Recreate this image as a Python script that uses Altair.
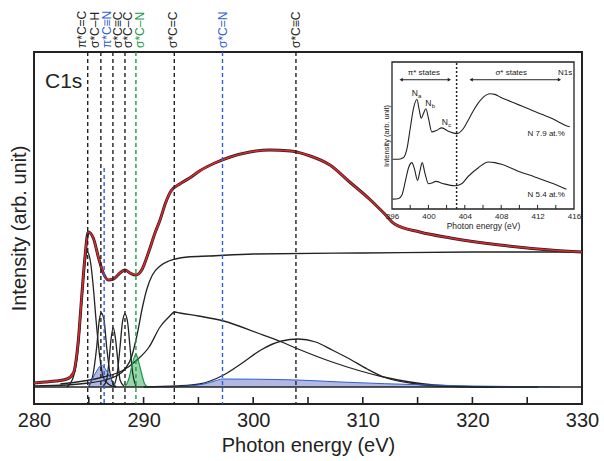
import altair as alt
import pandas as pd

FONT = "Liberation Sans"
INK = "#222222"
BLUE = "#2f5fd0"
GREEN = "#1d9a4a"
RED = "#e3262b"
BLUE_FILL = "#a3acdf"
GREEN_FILL = "#86cf9c"

# ---------------- main C1s spectrum (energy in eV, intensity in arb. units) -------------
fit_ev = [280, 281, 282, 283, 283.6, 284.04, 284.35, 284.65, 284.95, 285.41, 285.87, 286.32,
          286.78, 287.24, 287.85, 288.3, 288.76, 289.3, 289.83, 290.43, 291.04, 291.5, 292.0, 292.5,
          293.3, 294.2, 295.1, 296.5, 297.9, 299.7, 301.5, 303.4, 305.2, 307.0, 308.8, 310.7,
          312.0, 312.9, 315.2, 318.0, 322.5, 327.1, 330]
fit_int = [4, 5, 6, 8, 14, 46, 90, 130, 155, 149, 130, 114,
           107, 108, 114, 117, 114, 112, 117, 134, 154, 167, 184, 196,
           203, 209, 216, 224, 230, 235, 237, 236, 231, 222, 205, 187,
           173, 163, 155, 149, 142, 137, 135]

step_ev = [280, 283, 285, 286.5, 287.5, 288.3, 288.9, 289.4, 289.9, 290.3, 290.8, 291.5,
           292.3, 292.9, 294, 296, 300, 310, 320, 330]
step_int = [1, 2, 4, 7, 11, 18, 30, 52, 80, 98, 112, 121, 126, 128, 130, 131, 133, 134, 135, 135]

cc_ev = [282.4, 286.3, 288.0, 289.4, 290.5, 291.5, 292.3, 292.85, 293.3, 295.0, 297.3, 300.4,
         302.6, 304.1, 307.2, 311.9, 316.5, 321.1, 326]
cc_int = [3, 10, 16, 27, 40, 60, 70, 75, 74, 71, 66, 54, 45, 38, 25, 10, 2, 0, 0]

ctc_ev = [290, 293, 295.1, 297.3, 299.0, 300.7, 302.6, 304.1, 305.7, 307.2, 308.8, 310.4,
          311.9, 314.9, 318, 322]
ctc_int = [0, 1, 3, 12, 24, 37, 46, 48, 45, 37, 28, 18, 10, 3, 0.5, 0]

cn_ev = [292, 294, 295.5, 296.5, 297.2, 300, 304, 308, 312, 316, 320, 325, 328]
cn_int = [0, 1, 3, 6, 8, 7.8, 7, 5, 3.3, 2, 1, 0.3, 0]

g1_ev = [283.0, 283.59, 284.04, 284.35, 284.65, 284.87, 285.17, 285.41, 285.66, 285.96, 286.32, 286.9, 287.5]
g1_int = [0, 10, 40, 84, 124, 135, 124, 100, 67, 34, 10, 2, 0]
g2_ev = [285.0, 285.41, 285.72, 285.96, 286.14, 286.39, 286.63, 286.93, 287.3]
g2_int = [1, 14, 40, 67, 74, 67, 40, 14, 1]
g3_ev = [286.3, 286.63, 286.85, 287.02, 287.24, 287.45, 287.64, 287.85, 288.2]
g3_int = [1, 7, 27, 47, 59, 47, 27, 7, 1]
g4_ev = [287.3, 287.6, 287.85, 288.06, 288.3, 288.55, 288.76, 289.0, 289.3]
g4_int = [1, 14, 40, 64, 73, 64, 40, 14, 1]
g5_ev = [288.2, 288.46, 288.7, 288.91, 289.3, 289.67, 289.9, 290.1, 290.4]
g5_int = [0, 3, 10, 20, 33, 20, 10, 3, 0]
g6_ev = [285.0, 285.41, 285.78, 286.14, 286.57, 286.93, 287.5]
g6_int = [0, 10, 17, 22, 17, 10, 0]

line_pos = [284.9, 286.1, 286.4, 287.2, 288.3, 289.3, 292.8, 297.2, 303.9]
line_top = [335, 335, 219, 335, 335, 335, 335, 335, 335]
line_col = ["black", "black", "blue", "black", "black", "green", "black", "blue", "black"]

label_text = ["π*C=C", "σ*C–H", "π*C≡N", "σ*C≡C", "σ*C–C", "σ*C–N", "σ*C=C", "σ*C=N", "σ*C≡C"]
label_pos = [284.35, 285.57, 286.63, 287.69, 288.6, 289.66, 292.7, 297.2, 303.9]

x_ticks = [285, 290, 295, 300, 305, 310, 315, 320, 325]
x_labels = [280, 290, 300, 310, 320, 330]

# ---------------- inset N1s spectra ----------------
up_ev = [396.07, 396.73, 397.28, 397.64, 398.0, 398.37, 398.74, 398.99, 399.21, 399.47, 399.72,
         400.01, 400.38, 400.93, 401.47, 402.2, 403.12, 403.85, 404.39, 404.94, 405.49, 406.04,
         406.77, 407.31, 408.04, 408.96, 409.87, 410.78, 411.69, 412.61, 413.52, 414.25, 415.16, 415.53]
up_int = [1.46, 1.46, 1.51, 1.76, 2.36, 2.96, 3.21, 2.91, 2.66, 2.81, 2.94,
          2.66, 2.26, 2.31, 2.38, 2.28, 2.21, 2.36, 2.61, 2.88, 3.11, 3.28,
          3.38, 3.36, 3.26, 3.16, 3.06, 2.96, 2.86, 2.76, 2.66, 2.56, 2.44, 2.41]
lo_ev = [396.07, 396.73, 397.09, 397.46, 397.82, 398.19, 398.48, 398.81, 399.07, 399.32, 399.61,
         400.01, 400.38, 400.82, 401.66, 402.93, 403.66, 404.39, 405.49, 406.58, 407.31, 408.04,
         409.87, 411.69, 413.52, 415.16]
lo_int = [0.29, 0.31, 0.41, 0.81, 1.21, 1.36, 1.16, 0.84, 1.11, 1.36, 1.06,
          0.74, 0.76, 0.81, 0.74, 0.68, 0.74, 0.96, 1.21, 1.38, 1.36, 1.31,
          1.11, 0.94, 0.76, 0.58]
in_ticks = [398, 400, 402, 404, 406, 408, 410, 412, 414]
in_labels = [396, 400, 404, 408, 412, 416]

# ---------------- scales & axes ----------------
W, H = 548, 352
xs = alt.Scale(domain=[280, 330], nice=False, zero=False)
ys = alt.Scale(domain=[-17, 335], nice=False, zero=False)
x_axis = alt.Axis(orient="bottom", values=x_labels, ticks=False, domain=False, grid=False,
                  labelFlush=False, labelOverlap=False,
                  labelFontSize=20, labelFont=FONT, labelColor=INK, labelPadding=6,
                  title="Photon energy (eV)", titleFontSize=20, titleFont=FONT,
                  titleFontWeight="normal", titleColor=INK, titlePadding=5)
y_axis = alt.Axis(orient="left", ticks=False, labels=False, domain=False, grid=False,
                  title="Intensity (arb. unit)", titleFontSize=20, titleFont=FONT,
                  titleFontWeight="normal", titleColor=INK, titlePadding=5)


def X(f):
    return alt.X(f"{f}:Q", scale=xs, axis=x_axis)


def Y(f):
    return alt.Y(f"{f}:Q", scale=ys, axis=y_axis)


def frame(ev, it, name):
    return pd.DataFrame({"ev": ev, "I": it, "curve": name})


black_curves = pd.concat([
    frame(g1_ev, g1_int, "g1"), frame(g2_ev, g2_int, "g2"), frame(g3_ev, g3_int, "g3"),
    frame(g4_ev, g4_int, "g4"), frame(step_ev, step_int, "step"),
    frame(cc_ev, cc_int, "cc"), frame(ctc_ev, ctc_int, "ctc"),
])
blue_curves = pd.concat([frame(cn_ev, cn_int, "cn"), frame(g6_ev, g6_int, "g6")])
green_curve = frame(g5_ev, g5_int, "g5")
fit = frame(fit_ev, fit_int, "fit")

col_map = {"black": INK, "blue": BLUE, "green": GREEN}
vlines = pd.DataFrame({"pos": line_pos, "top": line_top, "bot": [-17] * len(line_pos),
                       "col": [col_map[c] for c in line_col]})
labels = pd.DataFrame({"pos": label_pos, "label": label_text,
                       "col": [col_map[c] for c in line_col]})
ticks = pd.DataFrame({"pos": x_ticks, "y1": -17, "y2": -10})

blue_area = alt.Chart(blue_curves).mark_area(color=BLUE_FILL, opacity=0.85, interpolate="monotone").encode(
    x=X("ev"), y=Y("I"), detail="curve:N")
blue_edge = alt.Chart(blue_curves).mark_line(color=BLUE, strokeWidth=1, interpolate="monotone").encode(
    x=X("ev"), y=Y("I"), detail="curve:N")
green_area = alt.Chart(green_curve).mark_area(color=GREEN_FILL, opacity=0.85, interpolate="monotone").encode(
    x=X("ev"), y=Y("I"))
green_edge = alt.Chart(green_curve).mark_line(color=GREEN, strokeWidth=1.2, interpolate="monotone").encode(
    x=X("ev"), y=Y("I"))
black_lines = alt.Chart(black_curves).mark_line(color=INK, strokeWidth=1.3, interpolate="monotone").encode(
    x=X("ev"), y=Y("I"), detail="curve:N")
data_line = alt.Chart(fit).mark_line(color=INK, strokeWidth=3, interpolate="monotone").encode(
    x=X("ev"), y=Y("I"))
fit_line = alt.Chart(fit).mark_line(color=RED, strokeWidth=1.6, interpolate="monotone").encode(
    x=X("ev"), y=Y("I"))
baseline = alt.Chart(pd.DataFrame({"I": [0]})).mark_rule(color=INK, strokeWidth=1.6).encode(y=Y("I"))
dashed = alt.Chart(vlines).mark_rule(strokeDash=[4, 3], strokeWidth=1.4).encode(
    x=X("pos"), y=Y("top"), y2="bot", color=alt.Color("col:N", scale=None))
tick_marks = alt.Chart(ticks).mark_rule(color=INK, strokeWidth=1.6).encode(
    x=X("pos"), y=Y("y1"), y2="y2")
top_labels = alt.Chart(labels).mark_text(angle=270, align="left", baseline="middle",
                                         fontSize=12, font=FONT).encode(
    x=X("pos"), y=alt.value(-4), text="label:N", color=alt.Color("col:N", scale=None))
c1s = alt.Chart(pd.DataFrame({"ev": [281], "I": [305], "t": ["C1s"]})).mark_text(
    align="left", baseline="middle", fontSize=21, font=FONT, color=INK).encode(
    x=X("ev"), y=Y("I"), text="t:N")

main = alt.layer(blue_area, green_area, black_lines, blue_edge, green_edge, data_line, fit_line,
                 baseline, dashed, tick_marks, top_labels, c1s)

# ---------------- inset ----------------
xs_in = alt.Scale(domain=[396, 416], range=[358, 540], nice=False, zero=False)
ys_in = alt.Scale(domain=[0, 4.31], range=[157, 10], nice=False, zero=False)
x_axis_in = alt.Axis(orient="bottom", offset=-195, values=in_labels, ticks=False, domain=False,
                     grid=False, labelFlush=False, labelOverlap=False, zindex=2,
                     labelFontSize=8, labelFont=FONT, labelColor=INK, labelPadding=3,
                     title="Photon energy (eV)", titleFontSize=8.5, titleFont=FONT,
                     titleFontWeight="normal", titleColor=INK, titlePadding=1)
y_axis_in = alt.Axis(orient="left", offset=-358, ticks=False, labels=False, domain=False, grid=False,
                     zindex=2, title="Intensity (arb. unit)", titleFontSize=7.5, titleFont=FONT,
                     titleFontWeight="normal", titleColor=INK, titlePadding=2)


def Xi(f):
    return alt.X(f"{f}:Q", scale=xs_in, axis=x_axis_in)


def Yi(f):
    return alt.Y(f"{f}:Q", scale=ys_in, axis=y_axis_in)


inset_box = alt.Chart(pd.DataFrame({"x1": [396], "x2": [416], "y1": [0], "y2": [4.31]})).mark_rect(
    fill="white", stroke=INK, strokeWidth=1.3).encode(x=Xi("x1"), x2="x2", y=Yi("y1"), y2="y2")
in_curves = pd.concat([frame(up_ev, up_int, "up"), frame(lo_ev, lo_int, "lo")])
in_lines = alt.Chart(in_curves).mark_line(color=INK, strokeWidth=1.1, interpolate="monotone").encode(
    x=Xi("ev"), y=Yi("I"), detail="curve:N")
in_dotted = alt.Chart(pd.DataFrame({"ev": [403.1], "y1": [0], "y2": [4.31]})).mark_rule(
    color=INK, strokeDash=[2, 2], strokeWidth=1.5).encode(x=Xi("ev"), y=Yi("y1"), y2="y2")
in_tick = alt.Chart(pd.DataFrame({"ev": in_ticks, "y1": 0, "y2": 0.12})).mark_rule(
    color=INK, strokeWidth=1).encode(x=Xi("ev"), y=Yi("y1"), y2="y2")

arrows = pd.DataFrame({"a": [397.0, 404.7], "b": [402.3, 414.4], "I": [3.79, 3.79]})
arrow_lines = alt.Chart(arrows).mark_rule(color=INK, strokeWidth=1).encode(
    x=Xi("a"), x2="b", y=Yi("I"))
heads_l = alt.Chart(arrows).mark_point(shape="triangle-left", filled=True, color=INK, size=14,
                                       opacity=1).encode(x=Xi("a"), y=Yi("I"))
heads_r = alt.Chart(arrows).mark_point(shape="triangle-right", filled=True, color=INK, size=14,
                                       opacity=1).encode(x=Xi("b"), y=Yi("I"))

center_text = pd.DataFrame({"ev": [399.5, 409.1], "I": [4.0, 4.0], "t": ["π* states", "σ* states"]})
right_text = pd.DataFrame({"ev": [415.8, 415.0, 415.0], "I": [4.0, 2.21, 0.41],
                           "t": ["N1s", "N 7.9 at.%", "N 5.4 at.%"]})
n_text = pd.DataFrame({"ev": [398.5, 400.0, 401.8], "I": [3.41, 3.11, 2.54], "t": ["N", "N", "N"],
                       "s": ["a", "b", "c"]})
in_center = alt.Chart(center_text).mark_text(fontSize=8, font=FONT, color=INK, baseline="middle").encode(
    x=Xi("ev"), y=Yi("I"), text="t:N")
in_right = alt.Chart(right_text).mark_text(fontSize=8, font=FONT, color=INK, align="right",
                                           baseline="middle").encode(x=Xi("ev"), y=Yi("I"), text="t:N")
in_n = alt.Chart(n_text).mark_text(fontSize=8.5, font=FONT, color=INK, baseline="middle").encode(
    x=Xi("ev"), y=Yi("I"), text="t:N")
in_sub = alt.Chart(n_text).mark_text(fontSize=6, font=FONT, color=INK, baseline="middle",
                                     dx=5, dy=3).encode(x=Xi("ev"), y=Yi("I"), text="s:N")

inset = alt.layer(inset_box, in_lines, in_dotted, in_tick, arrow_lines, heads_l, heads_r,
                  in_center, in_right, in_n, in_sub)

chart = alt.layer(main, inset).resolve_scale(x="independent", y="independent").properties(
    width=W, height=H,
    padding={"left": 34, "top": 52, "right": 22, "bottom": 57},
    autosize=alt.AutoSizeParams(type="none"),
).configure_view(stroke=INK, strokeWidth=2)

chart.save("out.html", embed_options={"renderer": "svg", "actions": False})
